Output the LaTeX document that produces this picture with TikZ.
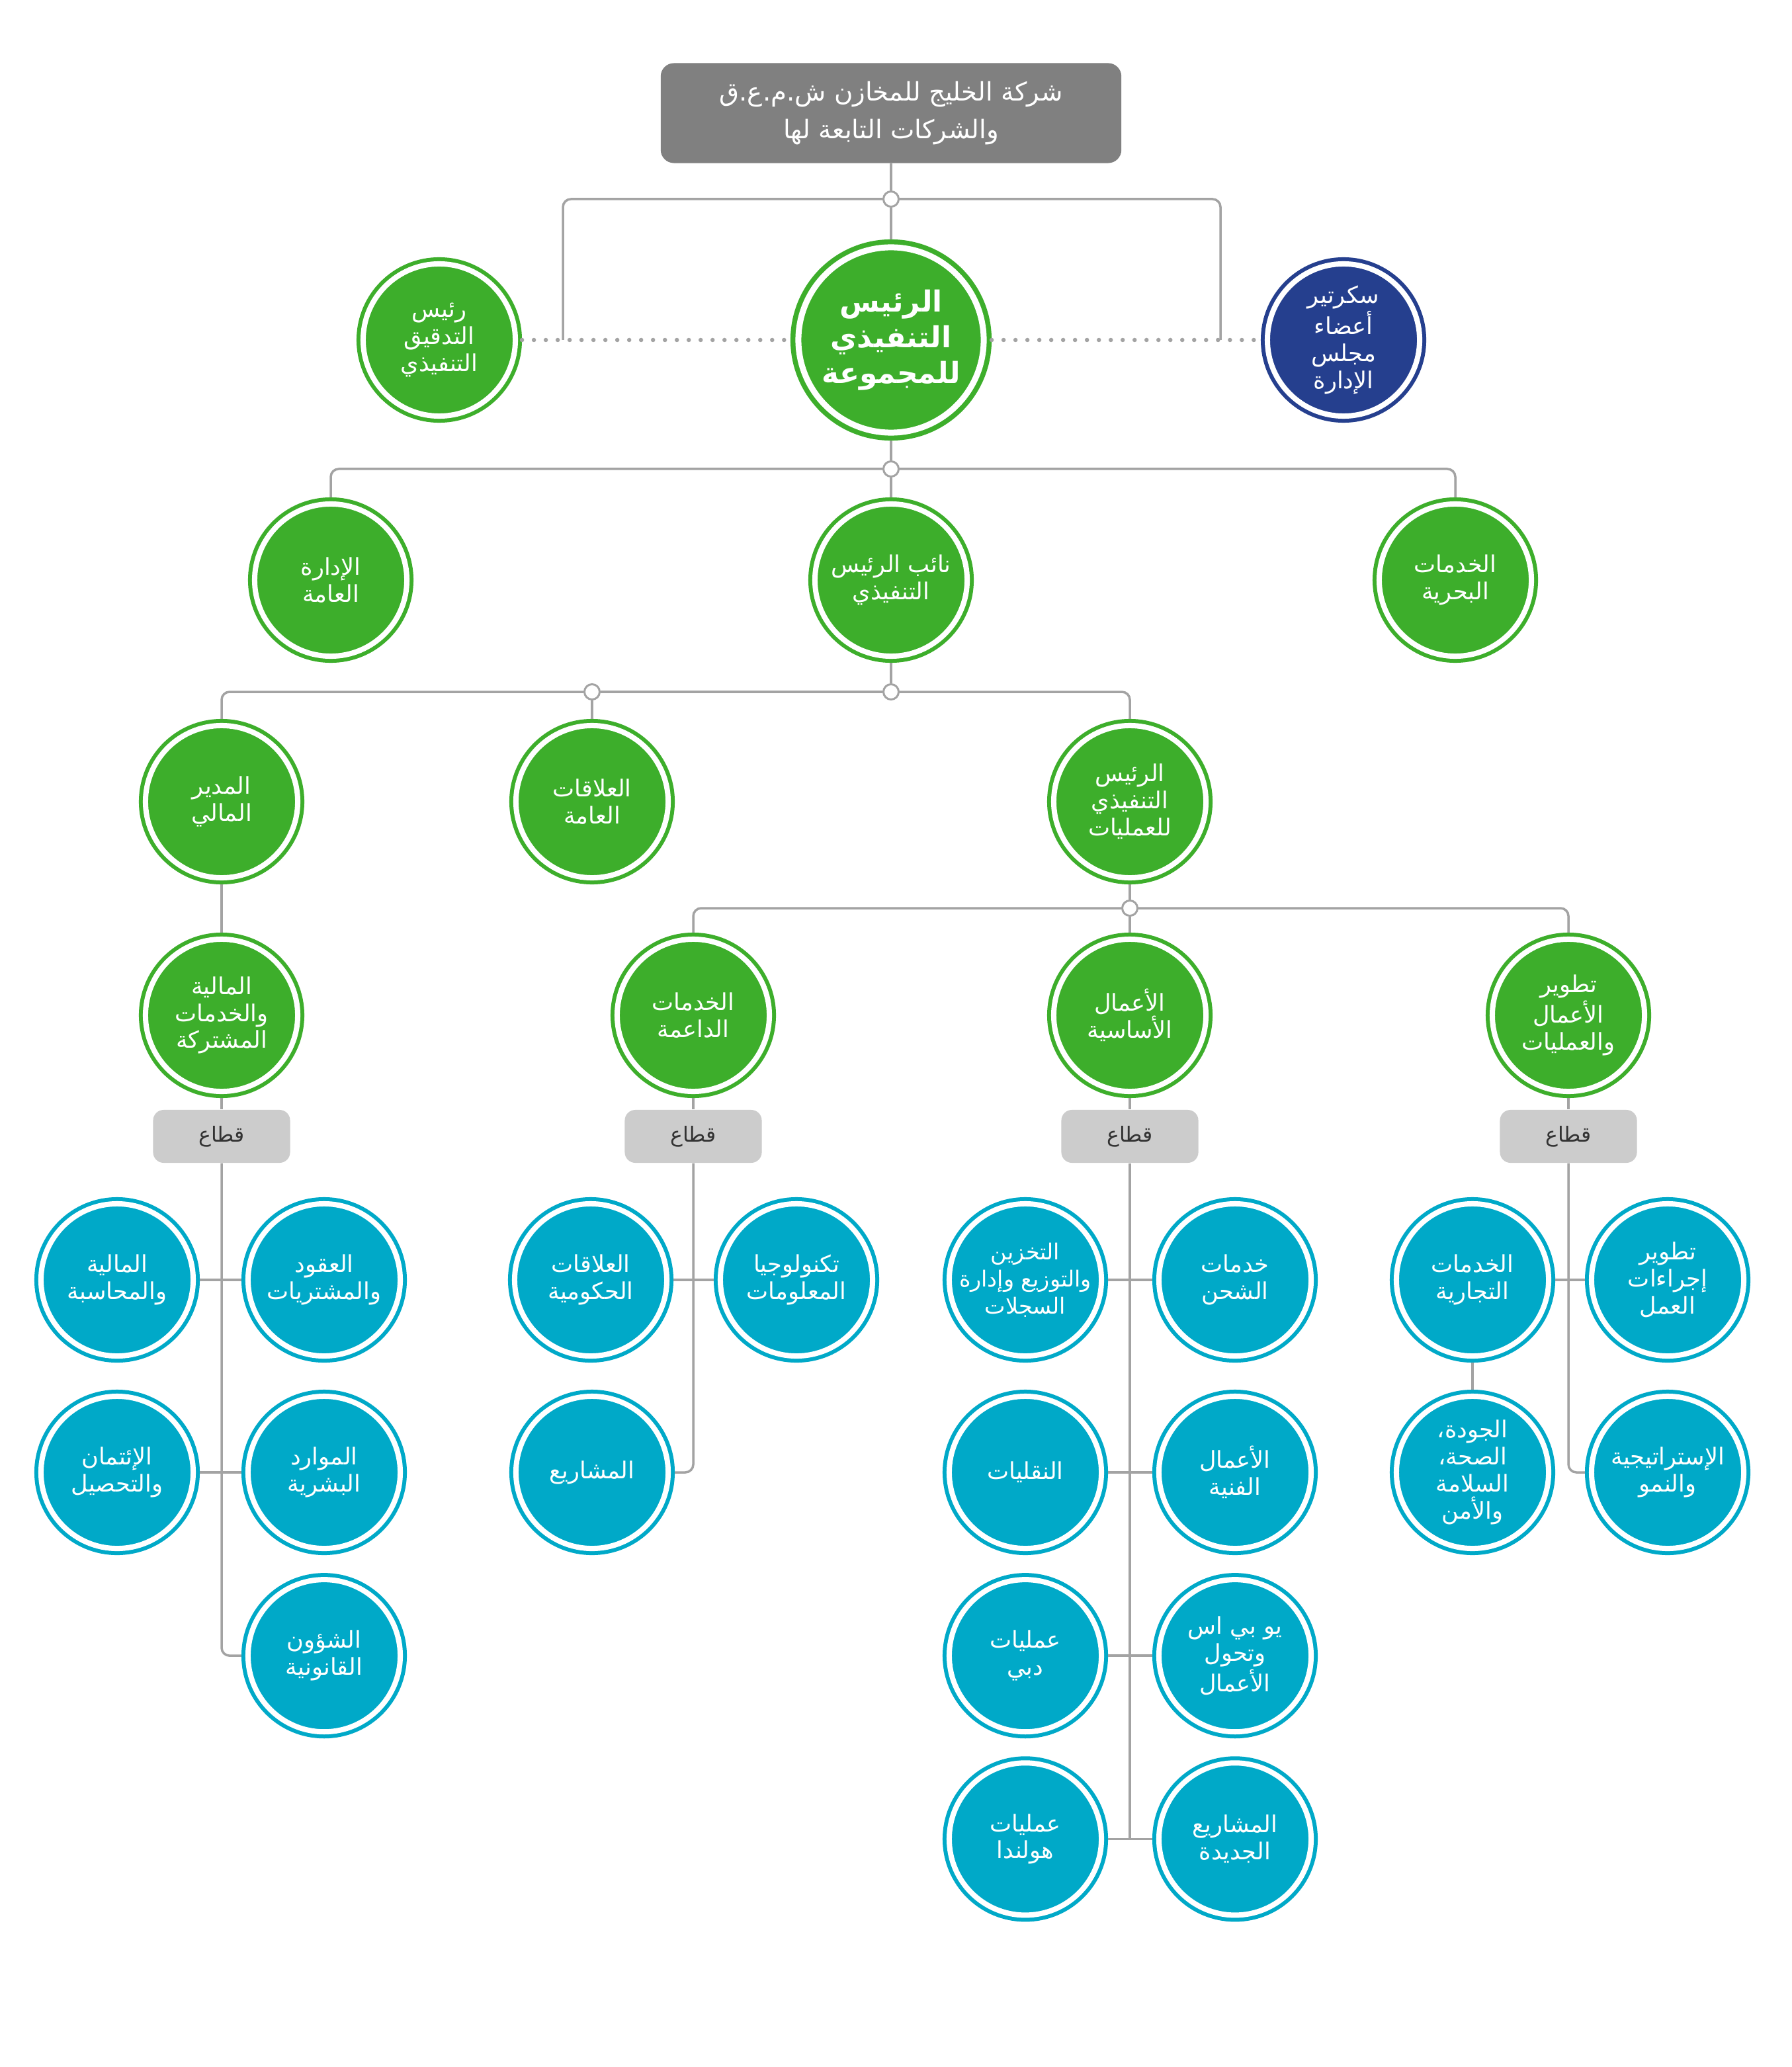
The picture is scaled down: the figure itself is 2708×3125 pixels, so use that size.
\documentclass[tikz,border=0pt]{standalone}
\usepackage{fontspec}
\newfontfamily\arabicfont[Script=Arabic]{DejaVu Sans}
\TeXXeTstate=1
\usetikzlibrary{positioning}

\definecolor{grn}{HTML}{3DAE2B}
\definecolor{blu}{HTML}{00A9C8}
\definecolor{nvy}{HTML}{253F8E}
\definecolor{hdr}{HTML}{808080}
\definecolor{sct}{HTML}{CCCCCC}
\definecolor{lnk}{HTML}{A3A3A3}

\newcommand\rtxt[1]{\beginR#1\endR}

\tikzset{
  ring/.style={circle, minimum size=2.3cm, inner sep=-0.5cm, outer sep=0.1cm,
    fill=#1, draw=white, line width=0.08cm, preaction={draw=#1, line width=0.2cm},
    text=white, align=center, font=\arabicfont\fontsize{10}{11.6}\selectfont},
  gnode/.style={ring=grn},
  bnode/.style={ring=blu},
  chief/.style={ring=grn, minimum size=2.8cm, outer sep=0.12cm, line width=0.09cm,
    preaction={draw=grn, line width=0.24cm},
    font=\arabicfont\bfseries\fontsize{12.5}{15.4}\selectfont},
  sector/.style={rectangle, fill=sct, rounded corners=0.16cm, minimum width=2.07cm,
    minimum height=0.8cm, text=black!80, font=\arabicfont\fontsize{9}{10}\selectfont},
  hub/.style={circle, draw=lnk, fill=white, line width=0.03cm, minimum size=0.23cm, inner sep=0pt},
  link/.style={draw=lnk, line width=0.035cm, rounded corners=0.12cm},
  dots/.style={draw=lnk, line width=0.065cm, line cap=round, dash pattern=on 0pt off 0.18cm}
}

\begin{document}
\begin{tikzpicture}[x=0.01cm, y=-0.01cm, node distance=2.77cm, on grid]
\useasboundingbox[fill=white] (0,0) rectangle (2708,3125);

% head
\node[rectangle, fill=hdr, rounded corners=0.2cm, minimum width=6.96cm, minimum height=1.51cm,
  text=white, align=center, font=\arabicfont\fontsize{11}{16}\selectfont] (top) at (1347,171)
  {\rtxt{شركة الخليج للمخازن ش.م.ع.ق}\\\rtxt{والشركات التابعة لها}};
\node[chief] (ceo) at (1347,514) {\rtxt{الرئيس}\\\rtxt{التنفيذي}\\\rtxt{للمجموعة}};
\node[gnode] (aud) at (664,514) {\rtxt{رئيس}\\\rtxt{التدقيق}\\\rtxt{التنفيذي}};
\node[ring=nvy] (sec) at (2031,514) {\rtxt{سكرتير}\\\rtxt{أعضاء}\\\rtxt{مجلس}\\\rtxt{الإدارة}};
\node[hub] (j_1) at (1347,301) {};
\coordinate (d_l) at (851,514);
\coordinate (d_r) at (1845,514);

% second level
\node[gnode] (ga) at (500,877) {\rtxt{الإدارة}\\\rtxt{العامة}};
\node[gnode] (dep) at (1347,877) {\rtxt{نائب الرئيس}\\\rtxt{التنفيذي}};
\node[gnode] (mar) at (2200,877) {\rtxt{الخدمات}\\\rtxt{البحرية}};
\node[hub] (j_2) at (1347,709) {};

% third level
\node[gnode] (cfo) at (335,1212) {\rtxt{المدير}\\\rtxt{المالي}};
\node[gnode] (pr) at (895,1212) {\rtxt{العلاقات}\\\rtxt{العامة}};
\node[gnode] (coo) at (1708,1212) {\rtxt{الرئيس}\\\rtxt{التنفيذي}\\\rtxt{للعمليات}};
\node[hub] (j_3) at (1347,1046) {};
\node[hub] (j_4) at (895,1046) {};

% fourth level
\node[gnode] (shr) at (335,1535) {\rtxt{المالية}\\\rtxt{والخدمات}\\\rtxt{المشتركة}};
\node[gnode] (sup) at (1048,1535) {\rtxt{الخدمات}\\\rtxt{الداعمة}};
\node[gnode] (core) at (1708,1535) {\rtxt{الأعمال}\\\rtxt{الأساسية}};
\node[gnode] (bd) at (2371,1535) {\rtxt{تطوير}\\\rtxt{الأعمال}\\\rtxt{والعمليات}};
\node[hub] (j_5) at (1708,1373) {};

\node[sector] (s_1) at (335,1718) {\rtxt{قطاع}};
\node[sector] (s_2) at (1048,1718) {\rtxt{قطاع}};
\node[sector] (s_3) at (1708,1718) {\rtxt{قطاع}};
\node[sector] (s_4) at (2371,1718) {\rtxt{قطاع}};

% finance units
\node[bnode] (f_1) at (177,1935) {\rtxt{المالية}\\\rtxt{والمحاسبة}};
\node[bnode] (f_2) at (490,1935) {\rtxt{العقود}\\\rtxt{والمشتريات}};
\node[bnode] (f_3) at (177,2226) {\rtxt{الإئتمان}\\\rtxt{والتحصيل}};
\node[bnode] (f_4) at (490,2226) {\rtxt{الموارد}\\\rtxt{البشرية}};
\node[bnode] (f_5) [below=of f_4] {\rtxt{الشؤون}\\\rtxt{القانونية}};

% support units
\node[bnode] (p_1) at (893,1935) {\rtxt{العلاقات}\\\rtxt{الحكومية}};
\node[bnode] (p_2) at (1204,1935) {\rtxt{تكنولوجيا}\\\rtxt{المعلومات}};
\node[bnode] (p_3) at (895,2226) {\rtxt{المشاريع}};

% core units
\node[bnode, font=\arabicfont\fontsize{9.5}{11.6}\selectfont] (c_1) at (1550,1935)
  {\rtxt{التخزين}\\\rtxt{والتوزيع وإدارة}\\\rtxt{السجلات}};
\node[bnode] (c_2) at (1867,1935) {\rtxt{خدمات}\\\rtxt{الشحن}};
\node[bnode] (c_3) at (1550,2226) {\rtxt{النقليات}};
\node[bnode] (c_4) at (1867,2226) {\rtxt{الأعمال}\\\rtxt{الفنية}};
\node[bnode] (c_5) [below=of c_3] {\rtxt{عمليات}\\\rtxt{دبي}};
\node[bnode] (c_6) [below=of c_4] {\rtxt{يو بي اس}\\\rtxt{وتحول}\\\rtxt{الأعمال}};
\node[bnode] (c_7) [below=of c_5] {\rtxt{عمليات}\\\rtxt{هولندا}};
\node[bnode] (c_8) [below=of c_6] {\rtxt{المشاريع}\\\rtxt{الجديدة}};

% business development units
\node[bnode] (b_1) at (2226,1935) {\rtxt{الخدمات}\\\rtxt{التجارية}};
\node[bnode] (b_2) at (2521,1935) {\rtxt{تطوير}\\\rtxt{إجراءات}\\\rtxt{العمل}};
\node[bnode] (b_3) at (2226,2226) {\rtxt{الجودة،}\\\rtxt{الصحة،}\\\rtxt{السلامة}\\\rtxt{والأمن}};
\node[bnode] (b_4) at (2521,2226) {\rtxt{الإستراتيجية}\\\rtxt{والنمو}};

% connectors
\path[link] (top) edge (j_1) (j_1) edge (ceo)
  (ceo) edge (j_2) (j_2) edge (dep)
  (dep) edge (j_3) (j_3) edge (j_4) (j_4) edge (pr)
  (cfo) edge (shr) (coo) edge (j_5) (j_5) edge (core)
  (shr) edge (s_1) (sup) edge (s_2) (core) edge (s_3) (bd) edge (s_4)
  (f_1) edge (f_2) (f_3) edge (f_4)
  (p_1) edge (p_2)
  (c_1) edge (c_2) (c_3) edge (c_4) (c_5) edge (c_6) (c_7) edge (c_8)
  (b_1) edge (b_2) (b_1) edge (b_3);
\draw[link] (j_1) -| (d_l);
\draw[link] (j_1) -| (d_r);
\draw[link] (j_2) -| (ga);
\draw[link] (j_2) -| (mar);
\draw[link] (j_4) -| (cfo);
\draw[link] (j_3) -| (coo);
\draw[link] (j_5) -| (sup);
\draw[link] (j_5) -| (bd);
\draw[link] (s_1) |- (f_5);
\draw[link] (s_2) |- (p_3);
\draw[link] (s_3) -- (s_3 |- c_8);
\draw[link] (s_4) |- (b_4);
\draw[dots] (aud) -- (ceo);
\draw[dots] (ceo) -- (sec);
\end{tikzpicture}
\end{document}
